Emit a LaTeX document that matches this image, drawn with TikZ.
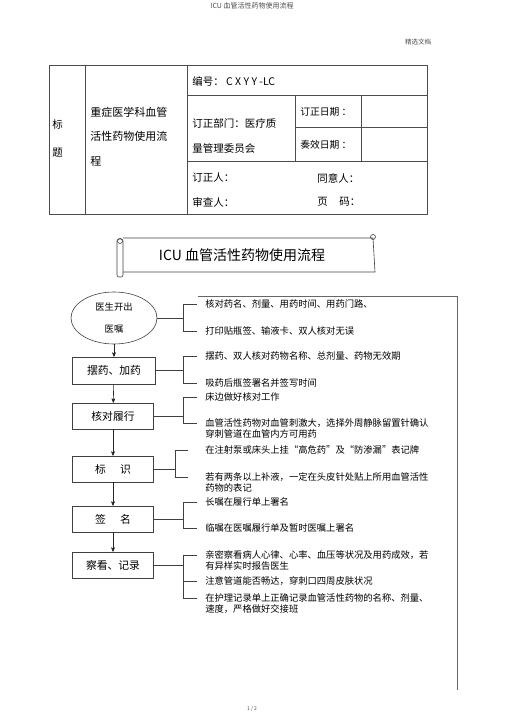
\documentclass[tikz,border=0pt]{standalone}
\usepackage{fontspec}
\setmainfont{Noto Sans CJK SC}
\usepackage{xcolor}
\usepackage{tikz}
\usetikzlibrary{arrows, shapes.geometric}

\begin{document}
\begin{tikzpicture}[>=stealth',x=1pt,y=-1pt,line width=0.6pt]
	\tikzstyle{every node} = [inner sep=0pt]
	\tikzstyle{box} = [rectangle,draw=black!75,minimum width=81pt,minimum height=26pt,font=\fontsize{10.8}{13}\selectfont]
	\tikzstyle{item} = [anchor=north west,align=left,inner xsep=8pt,yshift=4.7pt,font=\fontsize{9.3}{10.6}\selectfont]
	\tikzstyle{cell} = [anchor=west,font=\fontsize{10.5}{13}\selectfont]
	\tikzstyle{note} = [font=\fontsize{7}{8}\selectfont,text=black!70]
	\useasboundingbox (0,0) rectangle (505,714);

	% page header and footer
	\node[note]	(hd)	at (252,6)	{ICU 血管活性药物使用流程};
	\node[note,font=\fontsize{6.5}{8}\selectfont]	(sel)	at (418,42)	{精选文档};
	\node[note,font=\fontsize{5}{6}\selectfont]	(pg)	at (252,709)	{1 / 2};

	% title table
	\draw[black!70] (49.5,65) rectangle (427,214);
	\draw[black!70] (85,65) -- (85,214)
		(187,65) -- (187,214)
		(187,95) -- (427,95)
		(187,161) -- (427,161)
		(295,95) -- (295,161)
		(361,95) -- (361,161)
		(295,127) -- (427,127);
	\node[cell]	(c1)	at (52,125)	{标};
	\node[cell]	(c2)	at (52,153)	{题};
	\node[cell,anchor=north west,align=left,yshift=5.5pt,font=\fontsize{11}{24.5}\selectfont]	(c3)	at (90,112)	{重症医学科血管\\活性药物使用流\\程};
	\node[cell]	(c4)	at (192,81)		{编号：\ C X Y Y -LC};
	\node[cell]	(c5)	at (192,123)	{订正部门：医疗质};
	\node[cell]	(c6)	at (192,149)	{量管理委员会};
	\node[cell,font=\fontsize{9.8}{12}\selectfont]	(c7)	at (300,112)	{订正日期 ：};
	\node[cell,font=\fontsize{9.8}{12}\selectfont]	(c8)	at (300,145)	{奏效日期 ：};
	\node[cell]	(c9)	at (192,178)	{订正人：};
	\node[cell]	(c10)	at (192,202)	{审查人：};
	\node[cell]	(c11)	at (317,178)	{同意人：};
	\node[cell]	(c12)	at (317,202)	{页\hspace{1.1em}码：};

	% scroll banner
	\draw[black!75] (123,238) -- (373,238) -- (375,272) -- (123,272);
	\draw[black!75,rounded corners=2pt] (117,239) rectangle (123,277);
	\draw[black!75] (120,241) circle (2.5);
	\draw[black!75] (373,237) circle (2.5);
	\node[font=\fontsize{14}{16}\selectfont]	(ttl)	at (242,255)	{ICU 血管活性药物使用流程};

	% right frame
	\draw[black!60] (198,296) -- (457,296) -- (457,690);

	% flow
	\node[ellipse,draw=black!75,minimum width=86pt,minimum height=52pt,align=center,font=\fontsize{9.3}{22}\selectfont]	(e0)	at (114,318)	{医生开出\\医嘱};
	\node[box,minimum width=83pt,minimum height=27pt]	(b1)	at (114,370.5)	{摆药、加药};
	\node[box]	(b2)	at (113,416)	{核对履行};
	\node[box]	(b3)	at (113,469)	{标\hspace{1.3em}识};
	\node[box]	(b4)	at (113,519)	{签\hspace{1.3em}名};
	\node[box]	(b5)	at (113,565)	{察看、记录};
	\path[->,black!85]	(e0) edge (b1)
			(b1) edge (b2)
			(b2) edge (b3)
			(b3) edge (b4)
			(b4) edge (b5);

	% notes
	\node[item]	(t1a)	at (197,304)	{核对药名、剂量、用药时间、用药门路、};
	\node[item]	(t1b)	at (197,331)	{打印贴瓶签、输液卡、双人核对无误};
	\node[item]	(t2a)	at (197,356)	{摆药、双人核对药物名称、总剂量、药物无效期};
	\node[item]	(t2b)	at (197,383)	{吸药后瓶签署名并签写时间};
	\node[item]	(t3a)	at (197,397)	{床边做好核对工作};
	\node[item]	(t3b)	at (197,423)	{血管活性药物对血管刺激大，选择外周静脉留置针确认\\穿刺管道在血管内方可用药};
	\node[item,inner xsep=15pt]	(t4a)	at (190,450)	{在注射泵或床头上挂“高危药”及“防渗漏”表记牌};
	\node[item,inner xsep=15pt]	(t4b)	at (190,477)	{若有两条以上补液，一定在头皮针处贴上所用血管活性\\药物的表记};
	\node[item]	(t5a)	at (197,502)	{长嘱在履行单上署名};
	\node[item]	(t5b)	at (197,528)	{临嘱在医嘱履行单及暂时医嘱上署名};
	\node[item]	(t6a)	at (197,555)	{亲密察看病人心律、心率、血压等状况及用药成效，若\\有异样实时报告医生};
	\node[item]	(t6b)	at (197,581)	{注意管道能否畅达，穿刺口四周皮肤状况};
	\node[item]	(t6c)	at (197,598)	{在护理记录单上正确记录血管活性药物的名称、剂量、\\速度，严格做好交接班};

	% brackets
	\coordinate (k1) at (183,318);
	\coordinate (k2) at (183,370.5);
	\coordinate (k3) at (183,416);
	\coordinate (k4) at (175,469);
	\coordinate (k5) at (183,519);
	\coordinate (k6) at (183,565);
	\draw[black!75] (e0.east) -- (k1) |- ([yshift=-4.7pt]t1a.north west) (k1) |- ([yshift=-4.7pt]t1b.north west);
	\draw[black!75] (b1.east) -- (k2) |- ([yshift=-4.7pt]t2a.north west) (k2) |- ([yshift=-4.7pt]t2b.north west);
	\draw[black!75] (b2.east) -- (k3) |- ([yshift=-4.7pt]t3a.north west) (k3) |- ([yshift=-4.7pt]t3b.north west);
	\draw[black!75] (b3.east) -- (k4) |- ([yshift=-4.7pt,xshift=-2pt]t4a.north west) (k4) |- ([yshift=-4.7pt,xshift=-2pt]t4b.north west);
	\draw[black!75] (b4.east) -- (k5) |- ([yshift=-4.7pt]t5a.north west) (k5) |- ([yshift=-4.7pt]t5b.north west);
	\draw[black!75] (b5.east) -- (k6) |- ([yshift=-4.7pt]t6a.north west) (k6) |- ([yshift=-4.7pt]t6c.north west)
		([yshift=-4.7pt]t6b.north west) -| (k6);
\end{tikzpicture}
\end{document}
